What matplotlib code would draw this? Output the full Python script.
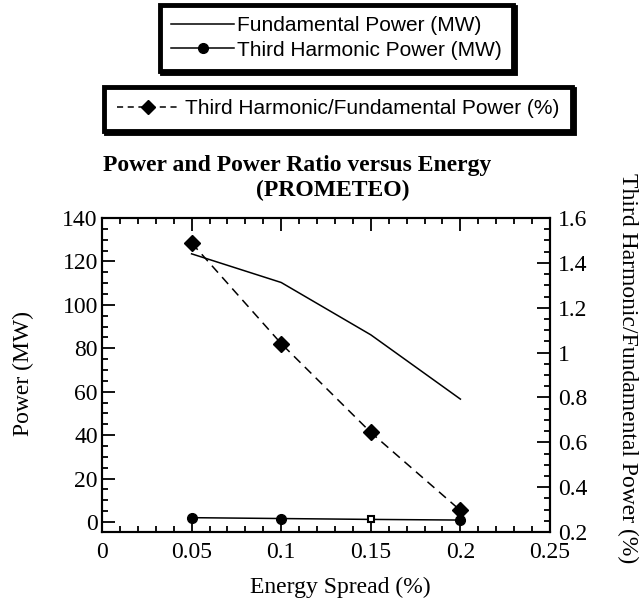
import numpy as np
import matplotlib
matplotlib.use('Agg')
import matplotlib.pyplot as plt
import matplotlib.ticker as ticker
from matplotlib.lines import Line2D

# data
energy_spread   = [0.05, 0.10, 0.15, 0.20]
fund_power      = [123.5, 110.3, 86.2, 56.6]
third_power     = [2.0, 1.6, 1.2, 0.9]
third_markers   = ['o', 'o', 's', 'o']
ratio_pct       = [1.489, 1.04, 0.644, 0.296]

xticks_left  = [0, 0.05, 0.1, 0.15, 0.2, 0.25]
xtick_labels = ['0', '0.05', '0.1', '0.15', '0.2', '0.25']
yticks_left  = [0, 20, 40, 60, 80, 100, 120, 140]
yticks_right = [0.2, 0.4, 0.6, 0.8, 1.0, 1.2, 1.4, 1.6]
ytick_right_labels = ['0.2', '0.4', '0.6', '0.8', '1', '1.2', '1.4', '1.6']

serif = 'Liberation Serif'
sans  = 'Liberation Sans'
fs    = 17
lfs   = 15

W, H = 642, 601
fig = plt.figure(figsize=(W/100, H/100), dpi=100)
ax  = fig.add_axes([102/W, 1 - 532/H, 448/W, 314/H])
ax2 = ax.twinx()

lw = 1.1
ax.plot(energy_spread, fund_power, color='black', linewidth=lw)
ax.plot(energy_spread, third_power, color='black', linewidth=lw)
for xv, yv, mk in zip(energy_spread, third_power, third_markers):
    if mk == 's':
        ax.plot(xv, yv, marker=mk, markersize=5, color='black', markerfacecolor='white', markeredgewidth=1.5)
    else:
        ax.plot(xv, yv, marker=mk, markersize=7, color='black')
ax2.plot(energy_spread, ratio_pct, color='black', linewidth=lw, linestyle=(0, (6, 4)),
         marker='D', markersize=8)

ax.set_xlim(0, 0.25)
ax.set_ylim(-4.6, 140)
ax2.set_ylim(0.2, 1.6)

ax.set_xticks(xticks_left)
ax.set_xticklabels(xtick_labels)
ax.set_yticks(yticks_left)
ax2.set_yticks(yticks_right)
ax2.set_yticklabels(ytick_right_labels)
ax.xaxis.set_minor_locator(ticker.MultipleLocator(0.01))
ax.yaxis.set_minor_locator(ticker.MultipleLocator(5))
ax2.yaxis.set_minor_locator(ticker.MultipleLocator(0.05))

ax.tick_params('both', which='both', direction='in', top=True, right=False, width=1.3)
ax.tick_params('both', which='major', length=9.5)
ax.tick_params('both', which='minor', length=4.5)
ax.tick_params('x', which='major', pad=7)
ax.tick_params('y', which='major', pad=3)
ax2.tick_params('y', which='both', direction='in', width=1.3)
ax2.tick_params('y', which='major', length=9.5, pad=6)
ax2.tick_params('y', which='minor', length=4.5)

for a in (ax, ax2):
    for sp in a.spines.values():
        sp.set_linewidth(1.5)
    for lab in a.get_xticklabels() + a.get_yticklabels():
        lab.set_fontfamily(serif)
        lab.set_fontsize(fs)

# axis labels and title
fig.text(340/W, 1 - 587/H, 'Energy Spread (%)', family=serif, fontsize=fs, ha='center', va='center')
fig.text(23/W, 1 - 373/H, 'Power (MW)', family=serif, fontsize=fs, ha='center', va='center', rotation=90)
fig.text(628/W, 1 - 368/H, 'Third Harmonic/Fundamental Power (%)', family=serif, fontsize=fs,
         ha='center', va='center', rotation=-90)
fig.text(297/W, 1 - 165/H, 'Power and Power Ratio versus Energy', family=serif, fontsize=fs,
         fontweight='bold', ha='center', va='center')
fig.text(333/W, 1 - 190/H, '(PROMETEO)', family=serif, fontsize=fs,
         fontweight='bold', ha='center', va='center')

# legends
h_fund  = Line2D([], [], color='black', linewidth=lw)
h_third = Line2D([], [], color='black', linewidth=lw, marker='o', markersize=7)
h_ratio = Line2D([], [], color='black', linewidth=lw, linestyle=(0, (4, 3)), marker='D', markersize=7)

shadow = {'color': 'black', 'alpha': 1, 'ox': 1.5, 'oy': -1.5}
leg1 = fig.legend([h_fund, h_third], ['Fundamental Power (MW)', 'Third Harmonic Power (MW)'],
                  loc='upper left', bbox_to_anchor=(160/W, 1 - 5/H), prop={'family': sans, 'size': lfs},
                  frameon=True, fancybox=False, shadow=shadow, framealpha=1, edgecolor='black',
                  handlelength=3.0, handletextpad=0.15, labelspacing=0.25, borderpad=0.55, borderaxespad=0)
leg1.get_frame().set_linewidth(3.5)
leg2 = fig.legend([h_ratio], ['Third Harmonic/Fundamental Power (%)'],
                  loc='upper left', bbox_to_anchor=(104/W, 1 - 87/H), prop={'family': sans, 'size': lfs},
                  frameon=True, fancybox=False, shadow=shadow, framealpha=1, edgecolor='black',
                  handlelength=3.0, handletextpad=0.3, borderpad=0.6, borderaxespad=0)
leg2.get_frame().set_linewidth(3.5)

fig.savefig('out.png', dpi=100)
plt.close(fig)
